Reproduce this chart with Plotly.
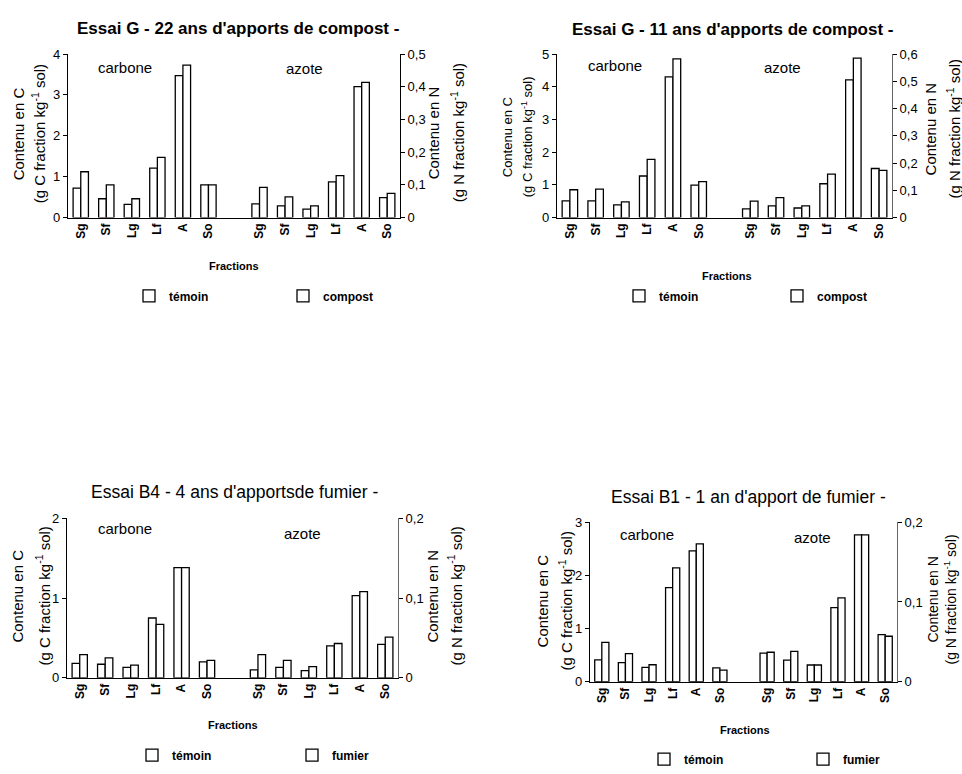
import plotly.graph_objects as go

W, H = 962, 774
FONT = "Liberation Sans, Arial, sans-serif"

# ---------------- data ----------------
fractions = ["Sg", "Sf", "Lg", "Lf", "A", "So"]
x_carbone = [0, 1, 2, 3, 4, 5]
x_azote = [7, 8, 9, 10, 11, 12]

titles = [
    "<b>Essai G - 22 ans d'apports de compost -</b>",
    "<b>Essai G - 11 ans d'apports de compost -</b>",
    "Essai B4 - 4 ans d'apportsde fumier -",
    "Essai B1 - 1 an d'apport de fumier -",
]
treat_names = ["compost", "compost", "fumier", "fumier"]

# Panel 1 : Essai G 22 ans
p1_C_temoin = [0.72, 0.46, 0.32, 1.21, 3.47, 0.80]
p1_C_apport = [1.12, 0.80, 0.46, 1.47, 3.73, 0.80]
p1_N_temoin = [0.042, 0.036, 0.026, 0.109, 0.400, 0.061]
p1_N_apport = [0.092, 0.063, 0.036, 0.128, 0.413, 0.074]
# Panel 2 : Essai G 11 ans
p2_C_temoin = [0.51, 0.51, 0.39, 1.27, 4.30, 0.99]
p2_C_apport = [0.85, 0.87, 0.48, 1.78, 4.85, 1.10]
p2_N_temoin = [0.032, 0.043, 0.035, 0.124, 0.505, 0.180]
p2_N_apport = [0.060, 0.073, 0.043, 0.159, 0.585, 0.173]
# Panel 3 : Essai B4
p3_C_temoin = [0.18, 0.17, 0.13, 0.75, 1.38, 0.20]
p3_C_apport = [0.29, 0.25, 0.16, 0.67, 1.38, 0.22]
p3_N_temoin = [0.010, 0.013, 0.009, 0.040, 0.103, 0.042]
p3_N_apport = [0.029, 0.022, 0.014, 0.043, 0.108, 0.051]
# Panel 4 : Essai B1
p4_C_temoin = [0.41, 0.36, 0.27, 1.77, 2.46, 0.26]
p4_C_apport = [0.74, 0.53, 0.32, 2.14, 2.59, 0.22]
p4_N_temoin = [0.036, 0.027, 0.021, 0.093, 0.184, 0.059]
p4_N_apport = [0.037, 0.038, 0.021, 0.105, 0.184, 0.057]

C_ticks = [[0, 1, 2, 3, 4], [0, 1, 2, 3, 4, 5], [0, 1, 2], [0, 1, 2, 3]]
N_ticks = [[0, 0.1, 0.2, 0.3, 0.4, 0.5], [0, 0.1, 0.2, 0.3, 0.4, 0.5, 0.6],
           [0, 0.1, 0.2], [0, 0.1, 0.2]]

panels = [
    (p1_C_temoin, p1_C_apport, p1_N_temoin, p1_N_apport),
    (p2_C_temoin, p2_C_apport, p2_N_temoin, p2_N_apport),
    (p3_C_temoin, p3_C_apport, p3_N_temoin, p3_N_apport),
    (p4_C_temoin, p4_C_apport, p4_N_temoin, p4_N_apport),
]

# ---------------- layout geometry (screen pixels) ----------------
plot_boxes = [(68, 400, 48, 215), (557, 892, 48, 215),
              (67, 398, 522, 685), (590, 897, 526, 689)]
title_pos = [(238, 22, 17), (732, 23, 17), (235, 495, 17.5), (748, 500, 17.5)]
carb_pos = [(125, 62), (615, 60), (125, 533), (647, 539)]
azote_pos = [(304, 63), (782, 62), (302, 538), (812, 542)]
# (x line1, x line2, y center, font size)
ytitleL = [(18, 38, 130, 15), (507, 527, 133, 13), (18, 43, 602, 15), (542, 565, 607, 15)]
ytitleR = [(433, 457, 129, 15), (930, 953, 125, 15), (433, 455, 602, 15), (933, 951, 605, 14)]
fract_pos = [(234, 264), (727, 275), (233, 733), (745, 738)]
legend_pos = [(153, 295, 155), (643, 295, 159), (156, 764, 161), (668, 768, 160)]


def px(x):
    return x / W


def py(y):
    return 1 - y / H


def fmt(v):
    return ("%g" % v).replace(".", ",")


fig = go.Figure()
layout = dict(
    width=W, height=H, margin=dict(l=0, r=0, t=0, b=0),
    paper_bgcolor="white", plot_bgcolor="white",
    font=dict(family=FONT, color="black", size=12),
    barmode="overlay", annotations=[],
)


def note(text, x, y, size, angle=0):
    return dict(text=text, x=px(x), y=py(y), xref="paper", yref="paper",
                showarrow=False, xanchor="center", yanchor="middle",
                textangle=angle, font=dict(size=size))


bar_line = dict(color="black", width=1.3)
for i, (ct, ca, nt, na) in enumerate(panels):
    k = i + 1
    xa = "x" if k == 1 else "x%d" % k
    yl = "y" if k == 1 else "y%d" % k
    yr = "y%d" % (k + 4)
    leg = "legend" if k == 1 else "legend%d" % k
    for vals, xs, ya, off, name, show in [
        (ct, x_carbone, yl, -0.3, "témoin", True),
        (ca, x_carbone, yl, 0.0, treat_names[i], True),
        (nt, x_azote, yr, -0.3, "témoin", False),
        (na, x_azote, yr, 0.0, treat_names[i], False),
    ]:
        fig.add_trace(go.Bar(
            x=xs, y=vals, xaxis=xa, yaxis=ya, width=0.3, offset=off,
            marker=dict(color="white", line=bar_line), name=name,
            showlegend=show, legend=leg, hoverinfo="skip"))

    x0, x1, y0, y1 = plot_boxes[i]
    xkey = "xaxis" if k == 1 else "xaxis%d" % k
    ylkey = "yaxis" if k == 1 else "yaxis%d" % k
    yrkey = "yaxis%d" % (k + 4)
    layout[xkey] = dict(
        domain=[px(x0), px(x1)], anchor=yl, range=[-0.5, 12.5],
        tickvals=x_carbone + x_azote, ticktext=fractions + fractions,
        tickangle=-90, showline=True, linecolor="black", linewidth=1.2,
        ticks="", showgrid=False, zeroline=False,
        tickfont=dict(size=12, family=FONT, weight="bold"))
    layout[ylkey] = dict(
        domain=[py(y1), py(y0)], anchor=xa, range=[0, C_ticks[i][-1]],
        tickvals=C_ticks[i], ticktext=[fmt(v) for v in C_ticks[i]],
        showline=True, linecolor="black", linewidth=1.2, ticks="outside",
        ticklen=4, tickcolor="black", showgrid=False, zeroline=False,
        tickfont=dict(size=13))
    layout[yrkey] = dict(
        overlaying=yl, side="right", anchor=xa, range=[0, N_ticks[i][-1]],
        tickvals=N_ticks[i], ticktext=[fmt(v) for v in N_ticks[i]],
        showline=True, linecolor="black" if k == 1 else "#666",
        linewidth=1, ticks="outside", ticklen=4, tickcolor="black",
        showgrid=False, zeroline=False, tickfont=dict(size=13))

    a = layout["annotations"]
    tx, ty, ts = title_pos[i]
    a.append(note(titles[i], tx, ty, ts))
    a.append(note("carbone", *carb_pos[i], 15))
    a.append(note("azote", *azote_pos[i], 15))
    l1, l2, lyc, ls = ytitleL[i]
    a.append(note("Contenu en C", l1, lyc, ls, -90))
    a.append(note("(g C fraction kg<sup>-1</sup> sol)", l2, lyc, ls, -90))
    r1, r2, ryc, rs = ytitleR[i]
    a.append(note("Contenu en N", r1, ryc, rs, -90))
    a.append(note("(g N fraction kg<sup>-1</sup> sol)", r2, ryc, rs, -90))
    a.append(note("<b>Fractions</b>", *fract_pos[i], 11))
    gx, gy, gw = legend_pos[i]
    layout[leg] = dict(
        orientation="h", x=px(gx - 24), y=py(gy), xanchor="left",
        yanchor="middle", xref="paper", yref="paper",
        entrywidth=gw - 46, entrywidthmode="pixels",
        font=dict(size=12, weight="bold"), bgcolor="rgba(0,0,0,0)",
        traceorder="normal", itemclick=False, itemdoubleclick=False)

fig.update_layout(**layout)
# remove the page's default body margin so the figure sits at (0, 0)
fig.write_html("out.html",
               config={"displayModeBar": False},
               post_script="document.body.style.margin='0px';")
